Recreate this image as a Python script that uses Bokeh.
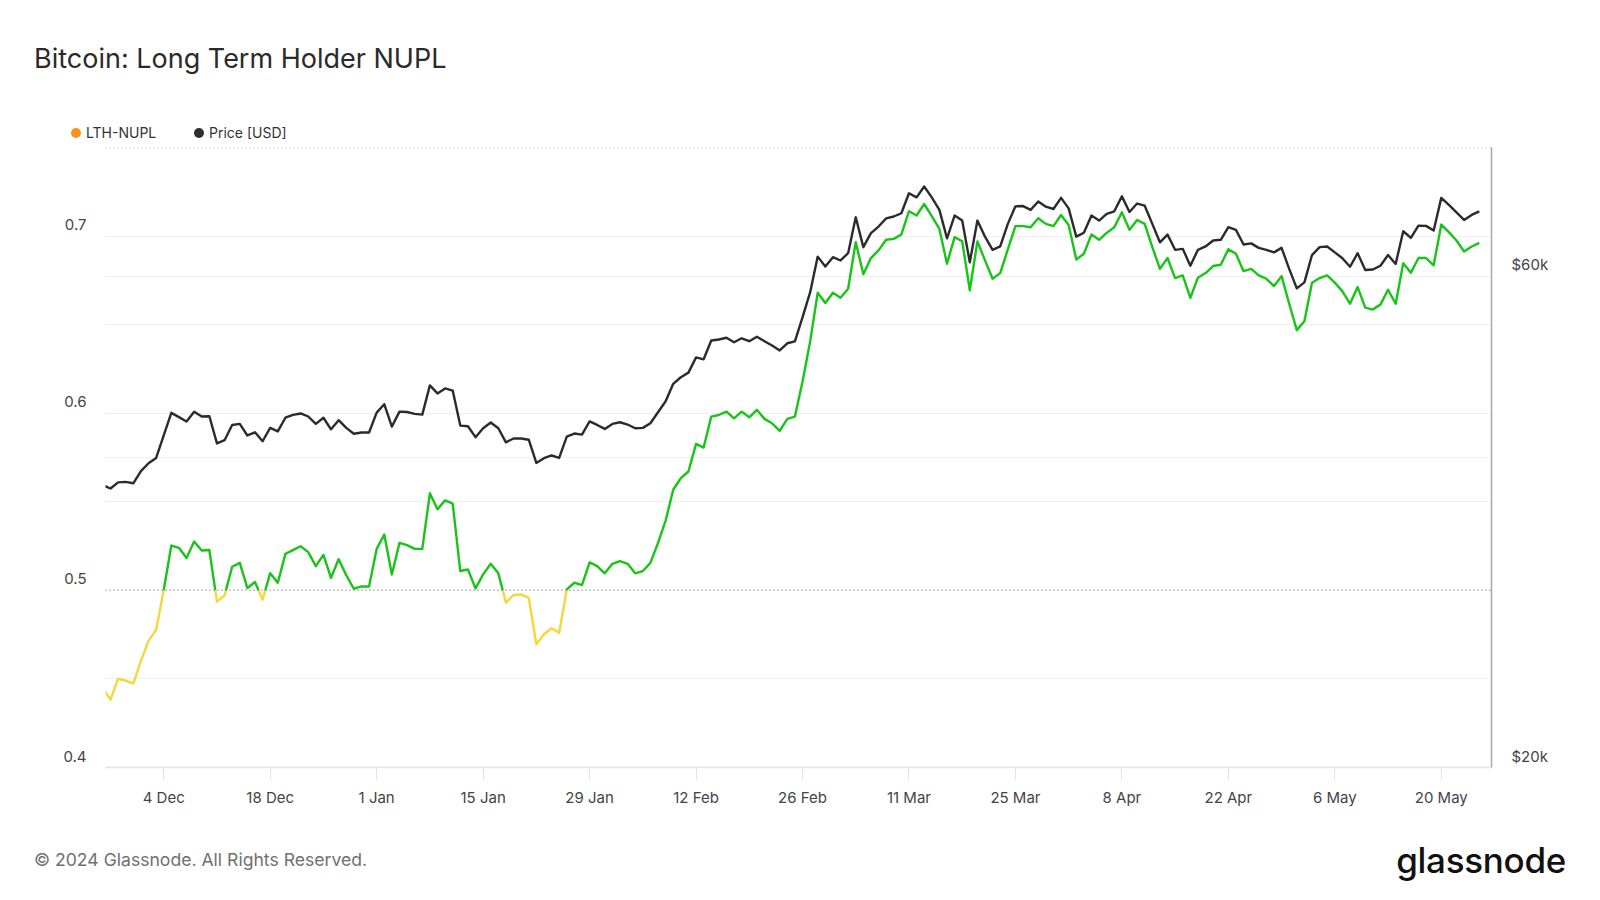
import numpy as np
import pandas as pd
from bokeh.plotting import figure
from bokeh.layouts import column
from bokeh.models import (Range1d, LinearAxis, LogAxis, LogScale, FixedTicker, Grid, Span,
                          DatetimeTickFormatter, Div)
from bokeh.embed import file_html
from bokeh.resources import INLINE

# ---------------- data ----------------
start_date = "2023-11-26"
end_date = "2024-05-25"

lth_nupl = [
    0.4445, 0.4383, 0.4501, 0.4490, 0.4474, 0.4602, 0.4715, 0.4777, 0.5002, 0.5253,
    0.5240, 0.5183, 0.5276, 0.5225, 0.5228, 0.4936, 0.4972, 0.5133, 0.5155, 0.5013,
    0.5047, 0.4947, 0.5097, 0.5043, 0.5206, 0.5227, 0.5249, 0.5216, 0.5137, 0.5200,
    0.5071, 0.5176, 0.5086, 0.5009, 0.5022, 0.5022, 0.5234, 0.5315, 0.5090, 0.5268,
    0.5255, 0.5234, 0.5234, 0.5548, 0.5458, 0.5508, 0.5490, 0.5109, 0.5118, 0.5011,
    0.5090, 0.5150, 0.5096, 0.4930, 0.4974, 0.4977, 0.4958, 0.4696, 0.4752, 0.4786,
    0.4761, 0.5006, 0.5043, 0.5030, 0.5158, 0.5137, 0.5096, 0.5150, 0.5165, 0.5150,
    0.5096, 0.5109, 0.5155, 0.5268, 0.5394, 0.5568, 0.5634, 0.5671, 0.5827, 0.5806,
    0.5981, 0.5990, 0.6009, 0.5971, 0.6009, 0.5977, 0.6019, 0.5968, 0.5943, 0.5900,
    0.5968, 0.5981, 0.6178, 0.6403, 0.6680, 0.6622, 0.6680, 0.6652, 0.6703, 0.6966,
    0.6784, 0.6876, 0.6919, 0.6979, 0.6984, 0.7009, 0.7140, 0.7116, 0.7181, 0.7112,
    0.7040, 0.6844, 0.6994, 0.6971, 0.6694, 0.6970, 0.6863, 0.6759, 0.6791, 0.6925,
    0.7056, 0.7056, 0.7050, 0.7101, 0.7069, 0.7056, 0.7119, 0.7063, 0.6868, 0.6900,
    0.7009, 0.6979, 0.7018, 0.7050, 0.7134, 0.7035, 0.7091, 0.7069, 0.6938, 0.6815,
    0.6876, 0.6763, 0.6778, 0.6651, 0.6765, 0.6791, 0.6831, 0.6838, 0.6925, 0.6900,
    0.6802, 0.6815, 0.6778, 0.6759, 0.6718, 0.6774, 0.6618, 0.6469, 0.6519, 0.6737,
    0.6763, 0.6778, 0.6737, 0.6688, 0.6618, 0.6712, 0.6596, 0.6585, 0.6613, 0.6697,
    0.6618, 0.6847, 0.6793, 0.6876, 0.6876, 0.6835, 0.7065, 0.7022, 0.6975, 0.6913,
    0.6941, 0.6962,
]

price_usd = [
    37600, 37320, 37840, 37880, 37760, 38800, 39490, 39960, 42020, 44200,
    43780, 43360, 44300, 43840, 43860, 41280, 41580, 43020, 43120, 42020,
    42320, 41480, 42740, 42400, 43720, 44000, 44140, 43840, 43120, 43720,
    42600, 43480, 42740, 42180, 42300, 42300, 44220, 45060, 42860, 44320,
    44280, 44100, 44020, 47000, 46160, 46680, 46460, 42960, 42900, 41860,
    42700, 43260, 42700, 41380, 41740, 41740, 41620, 39520, 39940, 40180,
    39960, 41920, 42200, 42100, 43360, 43020, 42640, 43120, 43280, 43060,
    42700, 42740, 43180, 44260, 45360, 47160, 47860, 48360, 50040, 49820,
    51960, 52080, 52280, 51760, 52220, 51880, 52400, 51880, 51380, 50820,
    51640, 51860, 54720, 57860, 62680, 61320, 62600, 62140, 63160, 68440,
    64020, 66060, 67040, 68280, 68560, 69060, 72220, 71560, 73320, 71560,
    69580, 65300, 68700, 67940, 61900, 67940, 65540, 63640, 64120, 67440,
    70140, 70180, 69580, 70900, 70080, 69720, 71480, 69820, 65540, 66120,
    68700, 67940, 68960, 69360, 71720, 69260, 70580, 70240, 67440, 64720,
    65840, 63640, 63780, 61420, 63640, 64120, 64980, 65080, 66940, 66540,
    64400, 64560, 63920, 63640, 63280, 63920, 60980, 58380, 59180, 62900,
    64020, 64120, 63280, 62460, 61280, 63160, 60840, 60900, 61420, 62900,
    61660, 66340, 65360, 67180, 67140, 66440, 71480, 70360, 69200, 68040,
    68800, 69360,
]

x_tick_dates = ["2023-12-04", "2023-12-18", "2024-01-01", "2024-01-15", "2024-01-29",
                "2024-02-12", "2024-02-26", "2024-03-11", "2024-03-25", "2024-04-08",
                "2024-04-22", "2024-05-06", "2024-05-20"]
y_ticks = [0.4, 0.5, 0.6, 0.7]
y_tick_labels = ["0.4", "0.5", "0.6", "0.7"]
y_grid = [0.45, 0.55, 0.6, 0.65, 0.7]
price_ticks = [20000, 60000]
price_tick_labels = ["$20k", "$60k"]
price_grid = [40000, 60000]
zone_lines = [0.5, 0.75]

title_text = "Bitcoin: Long Term Holder NUPL"
series_names = ["LTH-NUPL", "Price [USD]"]
series_colors = ["#f7931a", "#2e2e2e"]
footer_text = "© 2024 Glassnode. All Rights Reserved."
brand_text = "glassnode"

dates = pd.date_range(start_date, end_date, freq="D")
assert len(dates) == len(lth_nupl) == len(price_usd)

# ---------------- styles ----------------
FONT = "Inter"
GREEN = "#19c419"
YELLOW = "#f3d73c"
PRICE_C = "#2b2b2b"
TXT = "#444444"
W = 1600
HEAD_H, MAIN_H, FOOT_H = 147, 680, 73
LW = 2.4


def to_ms(d):
    return pd.Timestamp(d).value / 1e6


xs_ms = [to_ms(d) for d in dates]

# ---------------- header (title + legend) ----------------
legend_lefts = [71, 194]
legend_html = ""
for name, col, lx in zip(series_names, series_colors, legend_lefts):
    legend_html += (
        f'<div style="position:absolute;left:{lx}px;top:128px;width:10px;height:10px;'
        f'border-radius:50%;background:{col};"></div>'
        f'<div style="position:absolute;left:{lx + 15}px;top:133px;transform:translateY(-50%);'
        f'font-family:{FONT};font-size:14px;color:#333333;white-space:nowrap;line-height:1;">'
        f'{name}</div>'
    )
head_html = (
    f'<div style="position:relative;width:{W}px;height:{HEAD_H}px;margin:0;padding:0;">'
    f'<div style="position:absolute;left:34px;top:58px;transform:translateY(-50%);'
    f'font-family:{FONT};font-size:27px;color:#2a2a2a;white-space:nowrap;line-height:1;">'
    f'{title_text}</div>{legend_html}</div>'
)
head = Div(text=head_html, width=W, height=HEAD_H, margin=(0, 0, 0, 0))

# ---------------- main chart ----------------
p = figure(width=W, height=MAIN_H, x_axis_type=None, y_axis_type=None,
           output_backend="svg", toolbar_location=None,
           x_range=Range1d(to_ms("2023-11-26 08:13"), to_ms("2024-05-26 14:30")),
           y_range=Range1d(0.4, 0.75),
           min_border_left=105, min_border_right=109, min_border_top=0, min_border_bottom=60,
           margin=(0, 0, 0, 0))
p.outline_line_color = None
p.extra_y_ranges = {"price": Range1d(20000, 80000)}
p.extra_y_scales = {"price": LogScale()}

p.add_layout(Grid(dimension=1, ticker=FixedTicker(ticks=y_grid),
                  grid_line_color="#efefef", grid_line_width=1))
p.add_layout(Grid(dimension=1, ticker=FixedTicker(ticks=price_grid), y_range_name="price",
                  grid_line_color="#efefef", grid_line_width=1))
for zl in zone_lines:
    p.add_layout(Span(location=zl, dimension="width", line_color="#8a8a8a",
                      line_dash="1 3", line_width=1.5))

xaxis = LinearAxis(ticker=FixedTicker(ticks=[to_ms(d) for d in x_tick_dates]),
                   formatter=DatetimeTickFormatter(days="%-d %b", months="%-d %b", years="%-d %b",
                                                   hours="%-d %b", minutes="%-d %b"))
xaxis.axis_line_color = "#e3e3e3"
xaxis.axis_line_width = 1.5
xaxis.major_tick_line_color = "#e3e3e3"
xaxis.major_tick_out = 12
xaxis.major_tick_in = 0
xaxis.minor_tick_line_color = None
xaxis.major_label_standoff = 8
xaxis.major_label_text_font = FONT
xaxis.major_label_text_font_size = "15px"
xaxis.major_label_text_color = TXT
p.add_layout(xaxis, "below")

yaxis = LinearAxis(ticker=FixedTicker(ticks=y_ticks))
yaxis.major_label_overrides = {t: lab + "\n " for t, lab in zip(y_ticks, y_tick_labels)}
yaxis.axis_line_color = None
yaxis.major_tick_line_color = None
yaxis.minor_tick_line_color = None
yaxis.major_label_standoff = 13
yaxis.major_label_text_font = FONT
yaxis.major_label_text_font_size = "15px"
yaxis.major_label_text_color = TXT
p.add_layout(yaxis, "left")

raxis = LogAxis(y_range_name="price", ticker=FixedTicker(ticks=price_ticks))
raxis.major_label_overrides = {t: lab + "\n " for t, lab in zip(price_ticks, price_tick_labels)}
raxis.axis_line_color = "#a8a8a8"
raxis.axis_line_width = 1.5
raxis.major_tick_line_color = None
raxis.minor_tick_line_color = None
raxis.major_label_standoff = 14
raxis.major_label_text_font = FONT
raxis.major_label_text_font_size = "15px"
raxis.major_label_text_color = TXT
p.add_layout(raxis, "right")

# NUPL line split at the 0.5 zone line into yellow / green parts
thr = zone_lines[0]
seg_xs, seg_ys, seg_cols = [], [], []
cx, cy = [xs_ms[0]], [lth_nupl[0]]
above = lth_nupl[0] >= thr
for i in range(1, len(xs_ms)):
    a = lth_nupl[i] >= thr
    if a != above:
        t = (thr - lth_nupl[i - 1]) / (lth_nupl[i] - lth_nupl[i - 1])
        xc = xs_ms[i - 1] + t * (xs_ms[i] - xs_ms[i - 1])
        cx.append(xc); cy.append(thr)
        seg_xs.append(cx); seg_ys.append(cy); seg_cols.append(GREEN if above else YELLOW)
        cx, cy = [xc], [thr]
        above = a
    cx.append(xs_ms[i]); cy.append(lth_nupl[i])
seg_xs.append(cx); seg_ys.append(cy); seg_cols.append(GREEN if above else YELLOW)

p.multi_line(xs=seg_xs, ys=seg_ys, line_color=seg_cols, line_width=LW, line_join="round")
p.line(xs_ms, price_usd, y_range_name="price", line_color=PRICE_C, line_width=LW,
       line_join="round")

# ---------------- footer ----------------
foot_html = (
    f'<div style="position:relative;width:{W}px;height:{FOOT_H}px;margin:0;padding:0;">'
    f'<div style="position:absolute;left:34px;top:33px;transform:translateY(-50%);'
    f'font-family:{FONT};font-size:17.6px;color:#707070;white-space:nowrap;line-height:1;">'
    f'{footer_text}</div>'
    f'<div style="position:absolute;right:34px;top:33px;transform:translateY(-50%);'
    f'font-family:{FONT};font-size:35px;font-weight:500;color:#111111;white-space:nowrap;'
    f'line-height:1;letter-spacing:-0.3px;">{brand_text}</div></div>'
)
foot = Div(text=foot_html, width=W, height=FOOT_H, margin=(0, 0, 0, 0))

layout = column(head, p, foot, spacing=0, margin=(0, 0, 0, 0))
open("out.html", "w").write(file_html(layout, INLINE))
